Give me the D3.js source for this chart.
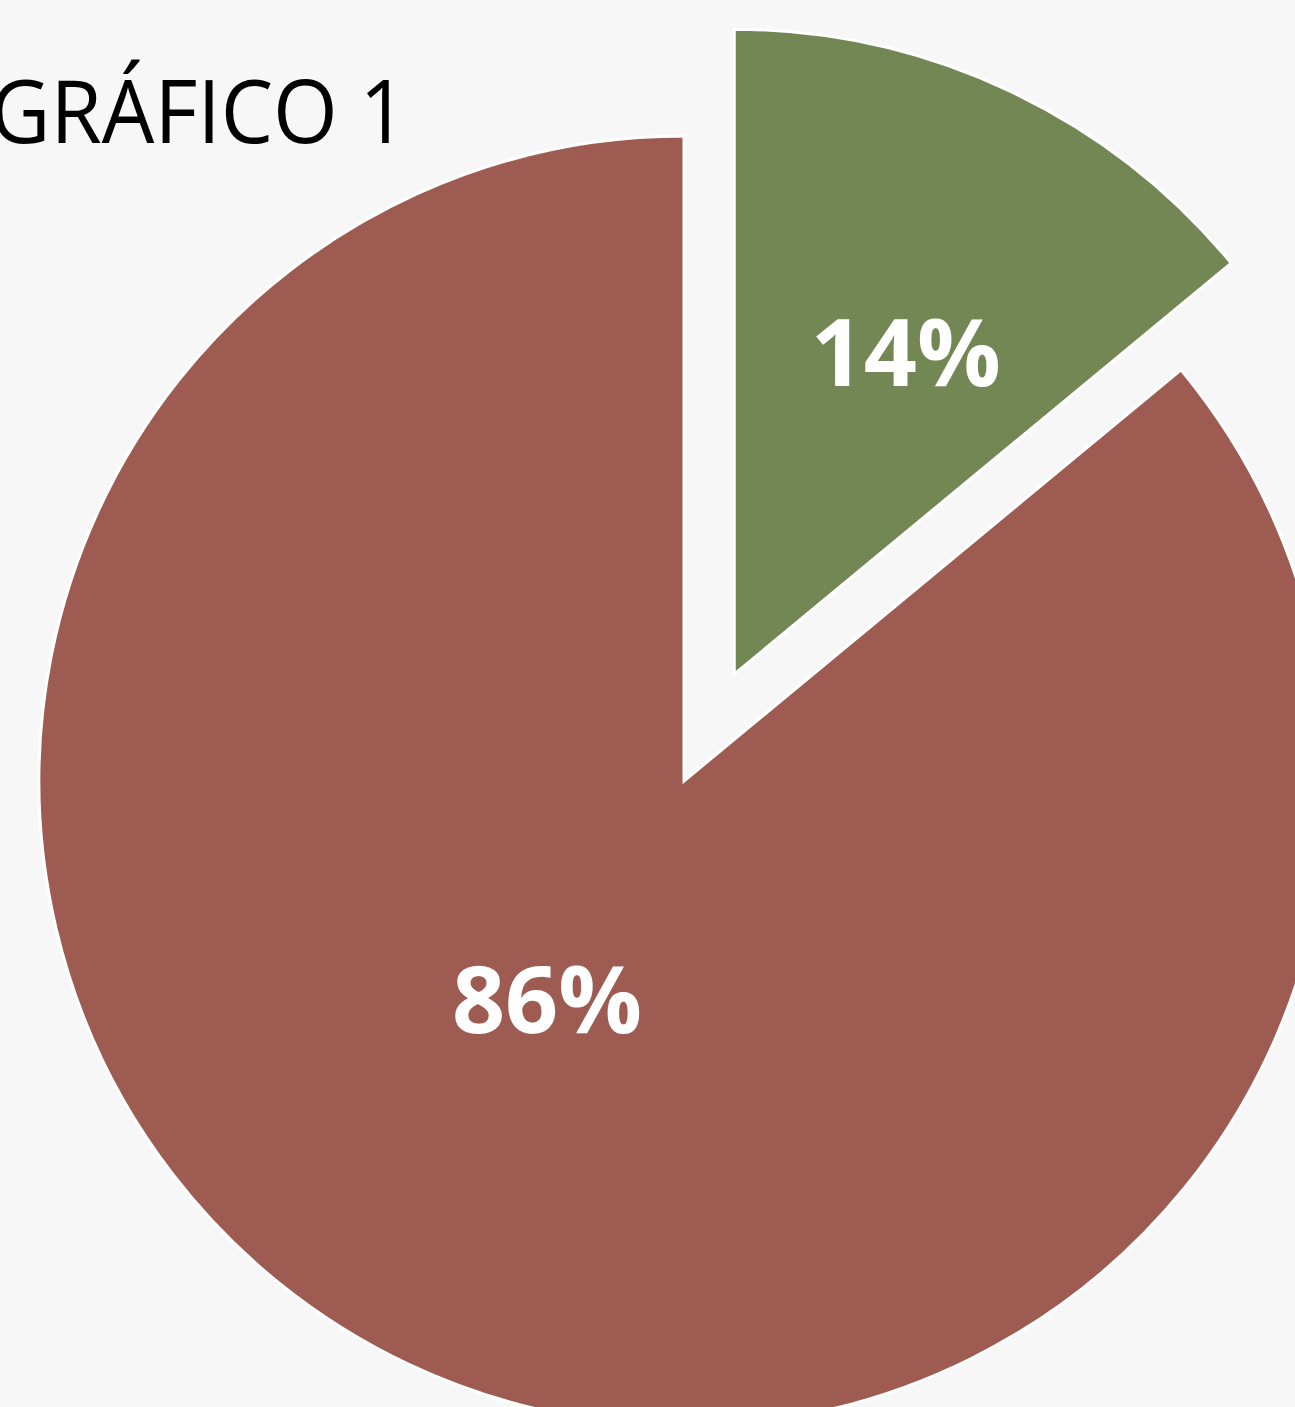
<!DOCTYPE html>
<html>
<head>
<meta charset="utf-8">
<script src="https://cdn.jsdelivr.net/npm/d3@7"></script>
<style>
  html, body { margin: 0; padding: 0; background: #f7f7f7; overflow: hidden; }
  svg { display: block; }
</style>
</head>
<body>
<div id="chart"></div>
<script>
// chart data
var categories = ["Sí", "No"];
var values = [14, 86];
var colors = ["#738755", "#9e5b52"];
var title = "GRÁFICO 1";

var width = 1295,
    height = 1407,
    cx = 684,
    cy = 781,
    radius = 645,
    explode = 118;

var svg = d3.select("#chart").append("svg")
    .attr("width", width)
    .attr("height", height);

svg.append("rect")
    .attr("width", width)
    .attr("height", height)
    .attr("fill", "#f7f7f7");

// pie layout, first slice starts at 12 o'clock and goes clockwise
var pie = d3.pie().sort(null).value(d => d.value);
var slices = pie(categories.map((c, i) => ({name: c, value: values[i], color: colors[i]})));

var arc = d3.arc().innerRadius(0).outerRadius(radius);
var total = d3.sum(values);

var g = svg.append("g").attr("transform", "translate(" + cx + "," + cy + ")");

// only the small slice is pulled out of the pie
function offset(d, i) {
  if (i !== 0) return [0, 0];
  var mid = (d.startAngle + d.endAngle) / 2;
  return [Math.sin(mid) * explode, -Math.cos(mid) * explode];
}

var slice = g.selectAll("g.slice")
    .data(slices)
    .enter().append("g")
    .attr("class", "slice")
    .attr("transform", (d, i) => "translate(" + offset(d, i) + ")");

slice.append("path")
    .attr("d", arc)
    .attr("fill", d => d.data.color)
    .attr("stroke", "#ffffff")
    .attr("stroke-width", 3)
    .attr("stroke-linejoin", "miter");

// labels sit a bit further out on the small slice, like the original
var labelFactor = [0.565, 0.40],
    labelTurn = [0.05, 0.12];

slice.append("text")
    .attr("transform", function(d, i) {
      var a = (d.startAngle + d.endAngle) / 2 + labelTurn[i],
          r = radius * labelFactor[i];
      return "translate(" + (Math.sin(a) * r) + "," + (-Math.cos(a) * r) + ")";
    })
    .attr("text-anchor", "middle")
    .attr("dy", "0.36em")
    .attr("fill", "#ffffff")
    .attr("font-family", "'Open Sans', sans-serif")
    .attr("font-weight", "bold")
    .attr("font-size", 93)
    .text(d => Math.round(d.data.value / total * 100) + "%");

// title, partly cut off at the left edge
svg.append("text")
    .attr("x", -10)
    .attr("y", 143)
    .attr("fill", "#000000")
    .attr("font-family", "'Open Sans', sans-serif")
    .attr("font-size", 87)
    .attr("textLength", 417)
    .attr("lengthAdjust", "spacingAndGlyphs")
    .text(title);
</script>
</body>
</html>
